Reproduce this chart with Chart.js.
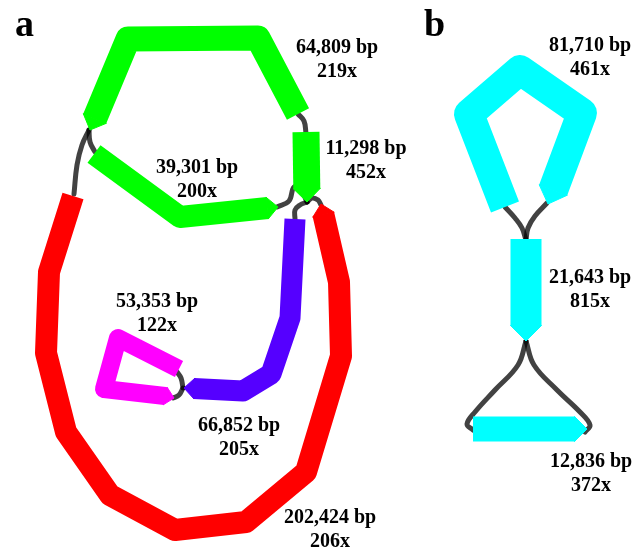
<!DOCTYPE html>
<html>
<head>
<meta charset="utf-8">
<script src="https://cdn.jsdelivr.net/npm/chart.js@4/dist/chart.umd.min.js"></script>
<style>
  html, body { margin: 0; padding: 0; background: #fff; }
  canvas { display: block; }
</style>
</head>
<body>
<canvas id="graph" width="634" height="549"></canvas>
<script>
// contig info
const contigLength = ['64,809', '11,298', '39,301', '202,424', '66,852', '53,353', '81,710', '21,643', '12,836'];
const contigDepth = [219, 452, 200, 206, 205, 122, 461, 815, 372];

// node centre lines in graph units (x right, y down), last point is the arrow tip
const path64809 = [[298,114],[258,38],[128,39],[90,130]];
const path11298 = [[306,132],[307,202]];
const path39301 = [[94,154],[180,217],[278,207]];
const path202424 = [[73,196],[49,272],[46,353],[66,432],[110,495],[175,530],[246,522],[306,472],[341,356],[339,282],[321,204]];
const path66852 = [[295,219],[290,318],[271,374],[243,391],[184,388]];
const path53353 = [[179,369],[118,338],[104,389],[165,396],[174,398]];
const path81710 = [[505,207],[469,114],[520,70],[582,113],[548,204]];
const path21643 = [[526,239],[526,341]];
const path12836 = [[473,429],[587,429]];
const contigPath = [path64809, path11298, path39301, path202424, path66852, path53353, path81710, path21643, path12836];

// links between node ends
const linkPaths = [
  [[89,130],[82,145],[77,165],[74,194]],
  [[89,130],[90,142],[95,152]],
  [[298,114],[304,121],[306,133]],
  [[277,207],[289,201],[294,187],[301,190],[307,202]],
  [[307,202],[300,205],[295,210],[295,219]],
  [[307,202],[312,198],[318,200],[321,205]],
  [[177,372],[181,378],[183,388]],
  [[183,388],[179,395],[173,398]],
  [[505,207],[515,218],[522,228],[526,240]],
  [[547,203],[535,216],[528,228],[526,240]],
  [[526,341],[518,365],[495,390],[475,412],[467,424],[473,430]],
  [[526,341],[534,365],[557,390],[580,412],[590,425],[585,432]]
];

// text anchors (baseline of the first line)
const labelAnchor = [[337,53],[366,154],[197,173],[330,523],[239,431],[157,307],[590,51],[590,283],[591,467]];
const panelLetters = ['a', 'b'];
const panelAnchor = [[15,36],[424,36]];

// styling
const nodeColour = ['#00ff00','#00ff00','#00ff00','#ff0000','#5500ff','#ff00ff','#00ffff','#00ffff','#00ffff'];
const nodeWidth = [25, 27, 22, 22, 21, 18, 30, 31, 25];
const linkColour = 'rgba(0,0,0,0.74)';

const pt = p => ({x: p[0], y: p[1]});

function splitArrow(path, w) {
    const n = path.length;
    const tip = path[n - 1], prev = path[n - 2];
    const dx = tip[0] - prev[0], dy = tip[1] - prev[1];
    const len = Math.hypot(dx, dy);
    const ux = dx / len, uy = dy / len;
    const L = w * 0.5;
    const sx = tip[0] - ux * L, sy = tip[1] - uy * L;
    const body = path.slice(0, n - 1).concat([[sx + ux * 0.6, sy + uy * 0.6]]);
    const nx = -uy * w / 2, ny = ux * w / 2;
    const head = [[sx + nx, sy + ny], tip, [sx - nx, sy - ny], [sx + nx, sy + ny]];
    return {body, head};
}

const datasets = [];
linkPaths.forEach(lp => {
    datasets.push({
        data: lp.map(pt),
        borderColor: linkColour,
        borderWidth: 5,
        borderCapStyle: 'round',
        tension: 0.4,
        fill: false,
        order: 2
    });
});
contigPath.forEach((p, i) => {
    const parts = splitArrow(p, nodeWidth[i]);
    datasets.push({
        data: parts.body.map(pt),
        borderColor: nodeColour[i],
        borderWidth: nodeWidth[i],
        borderJoinStyle: 'round',
        borderCapStyle: 'butt',
        // a solid "dash" keeps Chart.js off its per-column fast path
        borderDash: [5000, 0],
        tension: 0,
        fill: false,
        order: 1
    });
    datasets.push({
        data: parts.head.map(pt),
        borderColor: nodeColour[i],
        backgroundColor: nodeColour[i],
        borderWidth: 1,
        borderDash: [5000, 0],
        tension: 0,
        fill: 'shape',
        order: 1
    });
});

const textPlugin = {
    id: 'contigText',
    afterDatasetsDraw(chart) {
        const {ctx, scales: {x, y}} = chart;
        ctx.save();
        ctx.fillStyle = '#000';
        ctx.textBaseline = 'alphabetic';
        ctx.textAlign = 'center';
        ctx.font = 'bold 20px "Liberation Serif", "Times New Roman", serif';
        contigLength.forEach((len, i) => {
            const [lx, ly] = labelAnchor[i];
            ctx.fillText(len + ' bp', x.getPixelForValue(lx), y.getPixelForValue(ly));
            ctx.fillText(contigDepth[i] + 'x', x.getPixelForValue(lx), y.getPixelForValue(ly + 24));
        });
        ctx.textAlign = 'left';
        ctx.font = 'bold 38px "Liberation Serif", "Times New Roman", serif';
        panelLetters.forEach((t, i) => {
            ctx.fillText(t, x.getPixelForValue(panelAnchor[i][0]), y.getPixelForValue(panelAnchor[i][1]));
        });
        ctx.restore();
    }
};

const graph = new Chart(document.getElementById('graph').getContext('2d'), {
    type: 'line',
    data: { datasets },
    options: {
        responsive: false,
        animation: false,
        devicePixelRatio: 1,
        events: [],
        layout: { padding: 0 },
        elements: { point: { radius: 0, hoverRadius: 0 } },
        plugins: { legend: { display: false }, tooltip: { enabled: false } },
        scales: {
            x: { type: 'linear', min: 0, max: 634, display: false },
            y: { type: 'linear', min: 0, max: 549, reverse: true, display: false }
        }
    },
    plugins: [textPlugin]
});
</script>
</body>
</html>
